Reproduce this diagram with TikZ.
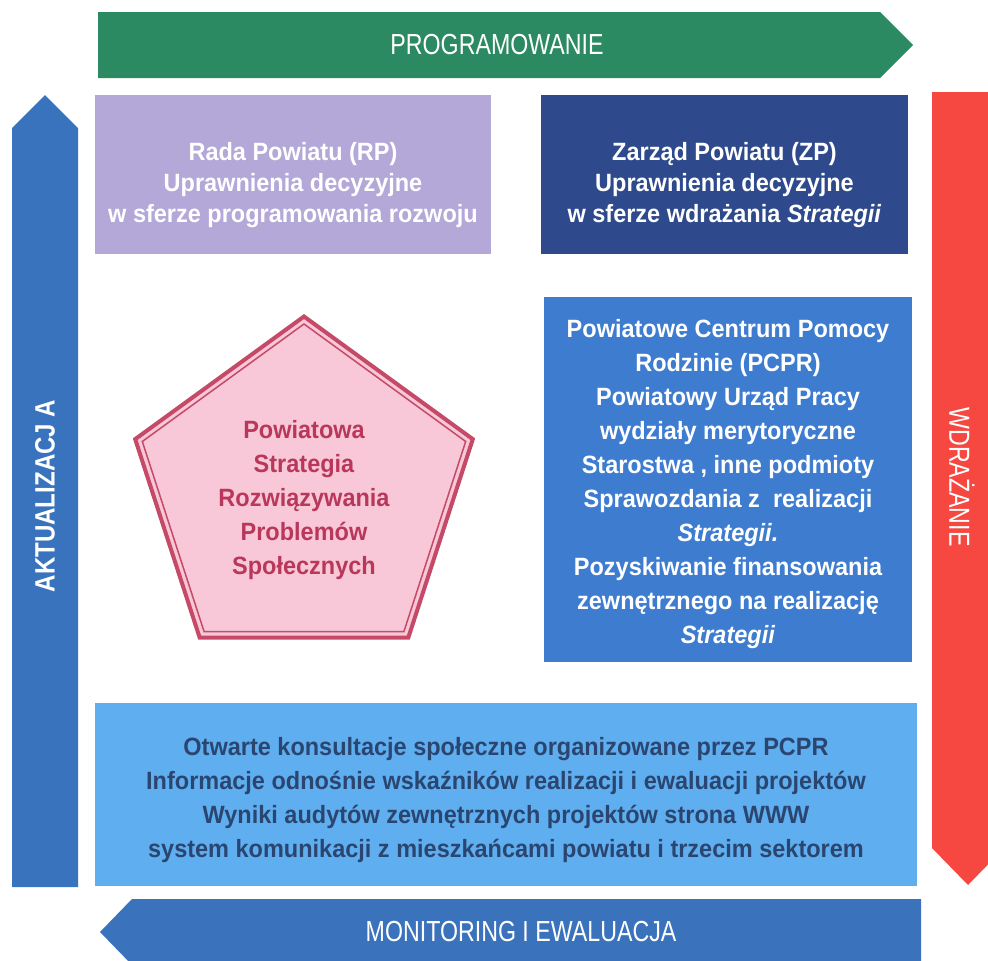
\documentclass[tikz,border=0pt]{standalone}
\usepackage{fontspec}
\setmainfont{Liberation Sans}
\newfontfamily\narrowfont[FakeStretch=0.8]{Liberation Sans}
\newfontfamily\condfont[FakeStretch=0.86]{Liberation Sans}
\newfontfamily\boxfont[FakeStretch=0.94]{Liberation Sans}
\usetikzlibrary{shapes.geometric}
\definecolor{progcol}{RGB}{44,138,98}
\definecolor{aktucol}{RGB}{57,115,190}
\definecolor{wdracol}{RGB}{246,72,64}
\definecolor{moncol}{RGB}{58,115,188}
\definecolor{rpcol}{RGB}{180,168,216}
\definecolor{zpcol}{RGB}{46,74,140}
\definecolor{pcprcol}{RGB}{62,124,208}
\definecolor{konscol}{RGB}{95,174,240}
\definecolor{konstext}{RGB}{42,70,112}
\definecolor{pentfill}{RGB}{248,200,216}
\definecolor{pentline}{RGB}{196,74,104}
\definecolor{penttext}{RGB}{185,55,90}

\begin{document}
\begin{tikzpicture}[x=1pt,y=-1pt,
  box/.style={inner sep=0pt,text=white,align=center,
    font=\boxfont\bfseries\fontsize{25}{34}\selectfont},
  arrlabel/.style={inner sep=0pt,text=white,font=\narrowfont\fontsize{29}{34}\selectfont},
  pent/.style={regular polygon,regular polygon sides=5,inner sep=0pt,draw=pentline}]
  \clip (0,0) rectangle (988,961);
  % big arrows round the frame
  \fill[progcol] (98,12) -- (880,12) -- (913,45) -- (880,78) -- (98,78) -- cycle;
  \fill[aktucol] (12,887) -- (12,128) -- (45,95) -- (78,128) -- (78,887) -- cycle;
  \fill[wdracol] (932,92) -- (1004,92) -- (1004,848) -- (968,885) -- (932,848) -- cycle;
  \fill[moncol] (921,899) -- (132,899) -- (100,932) -- (132,965) -- (921,965) -- cycle;
  \node[arrlabel] (prog) at (497,45) {PROGRAMOWANIE};
  \node[arrlabel] (mon) at (521,932) {MONITORING I EWALUACJA};
  \node[arrlabel,rotate=-90] (wdra) at (962,477) {WDRAŻANIE};
  \node[inner sep=0pt,text=white,rotate=90,font=\condfont\bfseries\fontsize{28}{34}\selectfont]
    (aktu) at (45,496) {AKTUALIZACJ A};
  % boxes
  \node[box,fill=rpcol,minimum width=396,minimum height=159,
    font=\boxfont\bfseries\fontsize{25}{31}\selectfont] (rp) at (293,174.5)
    {\rule{0pt}{39pt}Rada Powiatu (RP)\\Uprawnienia decyzyjne\\w sferze programowania rozwoju};
  \node[box,fill=zpcol,minimum width=367,minimum height=159,
    font=\boxfont\bfseries\fontsize{25}{31}\selectfont] (zp) at (724.5,174.5)
    {\rule{0pt}{39pt}Zarząd Powiatu (ZP)\\Uprawnienia decyzyjne\\w sferze wdrażania \textit{Strategii}};
  \node[box,fill=pcprcol,minimum width=368,minimum height=365] (pcpr) at (728,479.5)
    {\rule{0pt}{28pt}Powiatowe Centrum Pomocy\\Rodzinie (PCPR)\\Powiatowy Urząd Pracy\\wydziały merytoryczne\\
     Starostwa , inne podmioty\\Sprawozdania z\ \ realizacji\\\textit{Strategii.}\\
     Pozyskiwanie finansowania\\zewnętrznego na realizację\\\textit{Strategii}};
  \node[box,fill=konscol,text=konstext,minimum width=822,minimum height=183] (kons) at (506,794.5)
    {\rule{0pt}{30pt}Otwarte konsultacje społeczne organizowane przez PCPR\\
     Informacje odnośnie wskaźników realizacji i ewaluacji projektów\\
     Wyniki audytów zewnętrznych projektów strona WWW\\
     system komunikacji z mieszkańcami powiatu i trzecim sektorem};
  % strategy pentagon
  \node[pent,fill=pentfill,line width=4pt,minimum size=355] (strat) at (304,494) {};
  \node[pent,line width=1.5pt,minimum size=340] (stratin) at (304,494) {};
  \node[box,text=penttext] (stratlabel) at (304,500)
    {Powiatowa\\Strategia\\Rozwiązywania\\Problemów\\Społecznych};
\end{tikzpicture}
\end{document}
